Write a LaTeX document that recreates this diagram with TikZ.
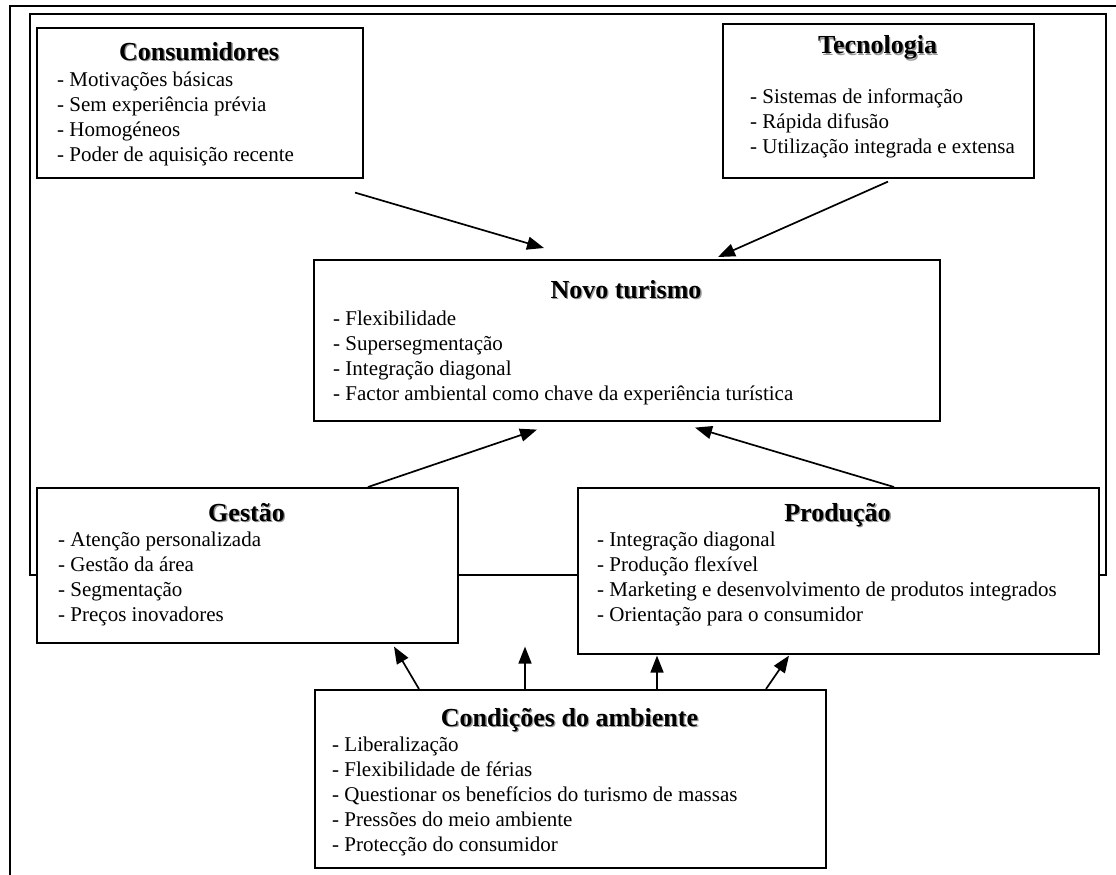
\documentclass[tikz,border=0pt]{standalone}
\usepackage{fontspec}
\setmainfont{Liberation Serif}
\usetikzlibrary{arrows.meta,calc}

% bold heading with a soft grey drop shadow
\newcommand\shtitle[1]{\makebox[0pt][l]{\hspace{1.3pt}\raisebox{-1.3pt}{\color{black!40}#1}}#1}
% list of points, first baseline is the node baseline
\newcommand\itemlist[1]{\begin{tabular}[t]{@{}l@{}}#1\end{tabular}}

\begin{document}
\begin{tikzpicture}[x=1pt,y=-1pt,
  frame/.style={line width=1.6pt},
  box/.style={draw, line width=1.6pt, fill=white, inner sep=0pt, anchor=north west},
  title/.style={inner sep=0pt, anchor=base, font=\fontsize{26}{30}\selectfont\bfseries},
  list/.style={inner sep=0pt, anchor=base west, font=\fontsize{21}{25}\selectfont},
  arr/.style={line width=1.7pt, -{Triangle[length=17pt,width=13pt]}}]

\useasboundingbox (0,0) rectangle (1116,875);

% outer and inner frames
\draw[frame] (10,875) -- (10,6) -- (1116,6);
\draw[frame] (30,14) rectangle (1106,575);

% boxes
\node[box, minimum width=326pt, minimum height=150pt] (cons) at (36,27) {};
\node[box, minimum width=311pt, minimum height=154pt] (tec)  at (722,23) {};
\node[box, minimum width=626pt, minimum height=161pt] (novo) at (313,259) {};
\node[box, minimum width=421pt, minimum height=155pt] (gest) at (36,487) {};
\node[box, minimum width=521pt, minimum height=166pt] (prod) at (577,487) {};
\node[box, minimum width=511pt, minimum height=178pt] (cond) at (314,689) {};

% headings
\node[title] (consT) at (199,60)   {\shtitle{Consumidores}};
\node[title] (tecT)  at (877.5,54) {\shtitle{Tecnologia}};
\node[title] (novoT) at (626,298)  {\shtitle{Novo turismo}};
\node[title] (gestT) at (246.5,521){\shtitle{Gestão}};
\node[title] (prodT) at (837.5,521){\shtitle{Produção}};
\node[title] (condT) at (569.5,726){\shtitle{Condições do ambiente}};

% lists
\node[list] (consL) at (57,86) {\itemlist{- Motivações básicas\\- Sem experiência prévia\\- Homogéneos\\- Poder de aquisição recente}};
\node[list] (tecL) at (750,103) {\itemlist{- Sistemas de informação\\- Rápida difusão\\- Utilização integrada e extensa}};
\node[list] (novoL) at (333,325) {\itemlist{- Flexibilidade\\- Supersegmentação\\- Integração diagonal\\- Factor ambiental como chave da experiência turística}};
\node[list] (gestL) at (58,546) {\itemlist{- Atenção personalizada\\- Gestão da área\\- Segmentação\\- Preços inovadores}};
\node[list] (prodL) at (597,546) {\itemlist{- Integração diagonal\\- Produção flexível\\- Marketing e desenvolvimento de produtos integrados\\- Orientação para o consumidor}};
\node[list] (condL) at (332,751) {\itemlist{- Liberalização\\- Flexibilidade de férias\\- Questionar os benefícios do turismo de massas\\- Pressões do meio ambiente\\- Protecção do consumidor}};

% influences on the new tourism
\draw[arr] ([shift={(319,14)}]cons.south west) -- ([shift={(231,-11)}]novo.north west);
\draw[arr] ([shift={(166,3)}]tec.south west) -- ([shift={(405,-2)}]novo.north west);
\draw[arr] ([shift={(332,0)}]gest.north west) -- ([shift={(224,8)}]novo.south west);
\draw[arr] ([shift={(317,0)}]prod.north west) -- ([shift={(382,6)}]novo.south west);

% environment conditions acting on management and production
\draw[arr] ([shift={(105,0)}]cond.north west) -- ([shift={(358,3)}]gest.south west);
\draw[arr] ([shift={(211,0)}]cond.north west) -- ([shift={(489,3)}]gest.south west);
\draw[arr] ([shift={(343,0)}]cond.north west) -- ([shift={(80,1)}]prod.south west);
\draw[arr] ([shift={(452,0)}]cond.north west) -- ([shift={(212,1)}]prod.south west);
\end{tikzpicture}
\end{document}
